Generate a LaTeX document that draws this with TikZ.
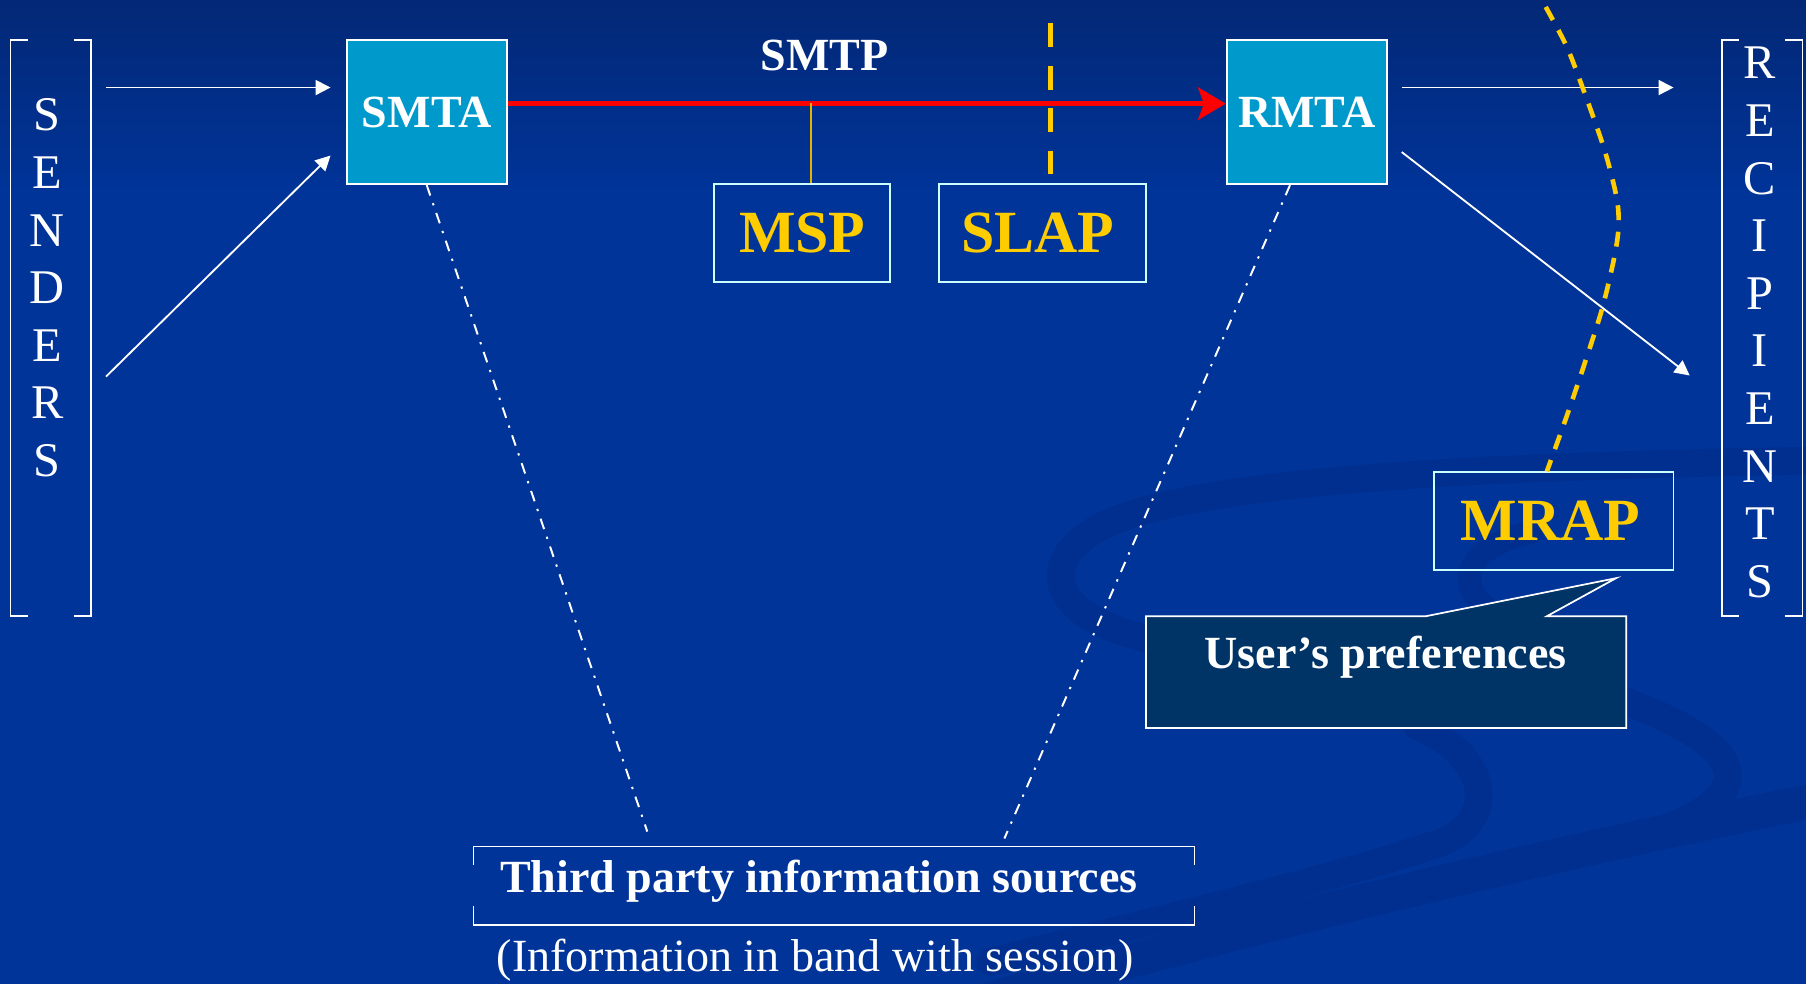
\documentclass[tikz,border=0pt]{standalone}
\usepackage{fontspec}
\setmainfont{Liberation Serif}
\usetikzlibrary{arrows.meta}

\definecolor{bgtop}{RGB}{3,40,118}
\definecolor{bgmain}{RGB}{0,52,153}
\definecolor{bgband}{RGB}{0,47,143}
\definecolor{mtafill}{RGB}{0,153,204}
\definecolor{gold}{RGB}{255,204,0}
\definecolor{paleline}{RGB}{204,255,255}
\definecolor{notefill}{RGB}{0,51,102}
\definecolor{stemgold}{RGB}{230,180,0}

\begin{document}
\begin{tikzpicture}[x=1pt,y=-1pt,
  mta/.style={draw=white, line width=1.5pt, fill=mtafill, minimum width=139pt,
    minimum height=125pt, inner sep=0pt, text=white,
    font=\fontsize{40}{48}\selectfont\bfseries},
  agent/.style={draw=paleline, line width=1.5pt, minimum height=85pt, inner sep=0pt,
    text=gold, font=\fontsize{52}{60}\selectfont\bfseries},
  boldlabel/.style={text=white, inner sep=0pt, font=\fontsize{40}{48}\selectfont\bfseries},
  plainlabel/.style={text=white, inner sep=0pt, font=\fontsize{40}{48}\selectfont},
  column/.style={text=white, inner sep=0pt, align=center,
    font=\fontsize{42}{50}\selectfont},
  flow/.style={white, line width=1.6pt, -{Triangle[length=13pt,width=13pt]}},
  smtplink/.style={red, line width=4.5pt, -{Stealth[length=24pt,width=28pt,inset=5pt]}},
  dashdotline/.style={white, line width=1.7pt, dash pattern=on 9.5pt off 7pt on 2pt off 7pt},
  goldcut/.style={gold, line width=4pt, dash pattern=on 21pt off 16pt},
  goldcurve/.style={gold, line width=4pt, dash pattern=on 13pt off 10pt},
  bracketline/.style={white, line width=1.5pt},
  band/.style={bgband, line width=24pt, line cap=round},
]
\useasboundingbox (0,0) rectangle (1568,854);

% background
\fill[bgmain] (0,0) rectangle (1568,854);
\shade[top color=bgtop, bottom color=bgmain] (0,0) rectangle (1568,170);

% faint swirl bands of the backdrop
\draw[band] (1568,400) .. controls (1300,405) and (1050,415) .. (960,455)
  .. controls (900,485) and (905,535) .. (1002,556);
\draw[band, line width=20pt] (1330,462) .. controls (1270,475) and (1260,510) .. (1300,535);
\draw[band] (1230,630) .. controls (1300,660) and (1300,720) .. (1240,735)
  .. controls (1150,765) and (1000,800) .. (860,835);
\draw[band] (1400,605) .. controls (1500,640) and (1540,680) .. (1450,718);
\draw[band, line width=30pt] (850,870) .. controls (1100,800) and (1350,740) .. (1600,690);

% senders column
\draw[bracketline] (24,35) -- (9,35) -- (9,535) -- (24,535);
\draw[bracketline] (64,35) -- (79,35) -- (79,535) -- (64,535);
\node[column] (senders) at (41,250) {S\\E\\N\\D\\E\\R\\S};

% recipients column
\draw[bracketline] (1510,35) -- (1495,35) -- (1495,535) -- (1510,535);
\draw[bracketline] (1550,35) -- (1565,35) -- (1565,535) -- (1550,535);
\node[column] (recipients) at (1528,280) {R\\E\\C\\I\\P\\I\\E\\N\\T\\S};

% transfer agents
\node[mta] (smta) at (370.5,97.5) {SMTA};
\node[mta] (rmta) at (1134.5,97.5) {RMTA};
\node[boldlabel] (smtp) at (716,48) {SMTP};

% policy boxes
\node[agent, minimum width=153pt] (msp) at (696.5,202.5) {MSP};
\node[agent, minimum width=180pt] (slap) at (905,202.5) {\hspace*{-8pt}SLAP};
\node[agent, minimum width=208pt] (mrap) at (1349,452.5) {\hspace*{-6pt}MRAP};

% third party sources
\draw[bracketline] (411,751) -- (411,735) -- (1037,735) -- (1037,751);
\draw[bracketline] (411,787) -- (411,803) -- (1037,803) -- (1037,787);
\node[boldlabel] (third) at (711,765) {Third party information sources};
\node[plainlabel] (inband) at (708,834) {(Information in band with session)};

% user preferences callout
\draw[white, line width=1.5pt, fill=notefill]
  (995,535) -- (1238,535) -- (1403,502) -- (1343,535) -- (1412,535)
  -- (1412,632) -- (995,632) -- cycle;
\node[boldlabel] (prefs) at (1203,571) {User’s preferences};

% free ends of the flows
\coordinate (sin1) at (92,76);
\coordinate (sin2) at (92,327);
\coordinate (sto1) at (287,76);
\coordinate (sto2) at (287,135);
\coordinate (rout1) at (1217,76);
\coordinate (rout2) at (1217,132);
\coordinate (rto1) at (1453,76);
\coordinate (rto2) at (1467,326);
\coordinate (tpl) at (562,722);
\coordinate (tpr) at (872,728);
\coordinate (cuttop) at (912,20);
\coordinate (curvetop) at (1342,6);

% message flows
\draw[flow] (sin1) -- (sto1);
\draw[flow] (sin2) -- (sto2);
\draw[flow] (rout1) -- (rto1);
\draw[flow] (rout2) -- (rto2);
\draw[smtplink] ([yshift=7.5pt]smta.east) -- ([yshift=7.5pt]rmta.west);
\draw[stemgold, line width=1.2pt] ([xshift=7.5pt]msp.north) -- ++(0,-70);

% lookups to third parties
\draw[dashdotline] (smta.south) -- (tpl);
\draw[dashdotline] ([xshift=-14.5pt]rmta.south) -- (tpr);

% administrative boundaries
\draw[goldcut] (cuttop) -- ([xshift=7pt,yshift=8pt]slap.north);
\draw[goldcurve] plot[smooth, tension=0.5] coordinates
  {(curvetop) (1360,40) (1374,76) (1393,130) (1404,174) (1405,200) (1401,226)
   (1391,268) (1376,315) (1360,362) ([xshift=-6pt]mrap.north)};
\end{tikzpicture}
\end{document}
